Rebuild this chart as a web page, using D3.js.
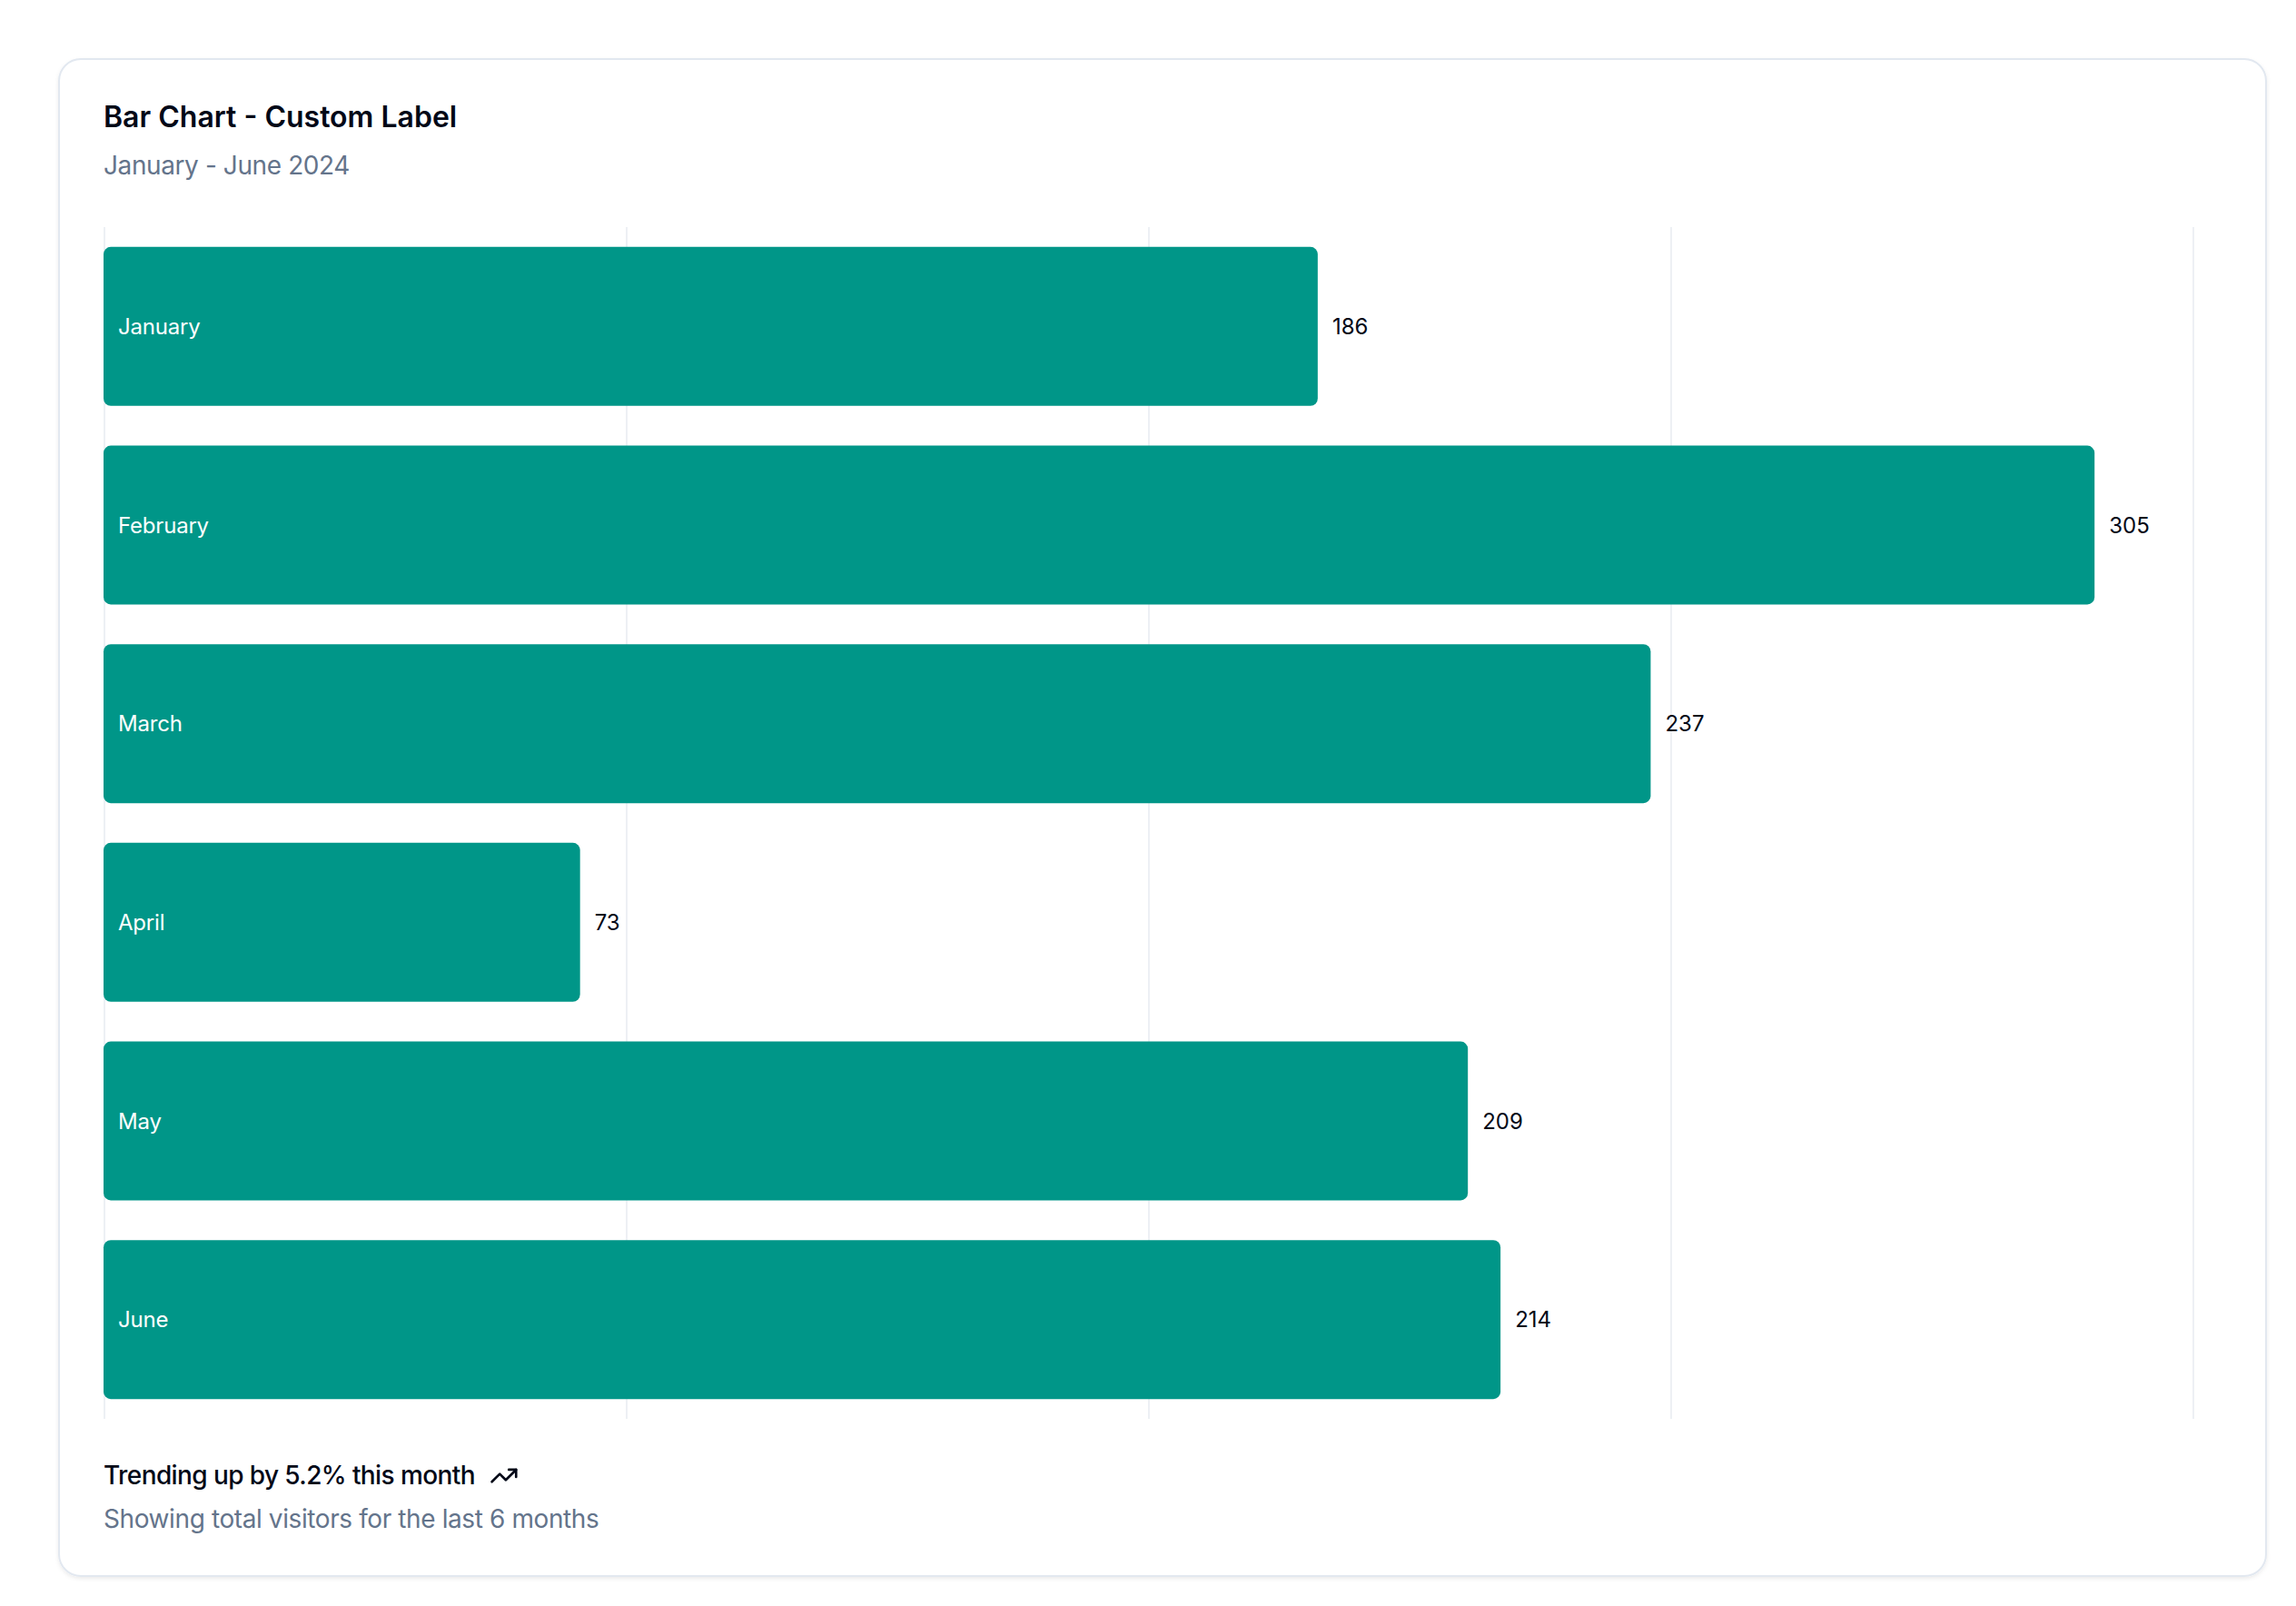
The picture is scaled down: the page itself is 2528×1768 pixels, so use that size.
<!DOCTYPE html>
<html>
<head>
<meta charset="utf-8">
<script src="https://cdn.jsdelivr.net/npm/d3@7"></script>
<style>
  html, body { margin: 0; padding: 0; background: #ffffff; }
  svg { display: block; font-family: Inter, "Noto Sans", sans-serif; }
</style>
</head>
<body>
<div id="chart"></div>
<script>
// chart data
const months = ["January", "February", "March", "April", "May", "June"];
const visitors = [186, 305, 237, 73, 209, 214];
const xTicks = [0, 80, 160, 240, 320];

const title = "Bar Chart - Custom Label";
const subtitle = "January - June 2024";
const footTrend = "Trending up by 5.2% this month";
const footNote = "Showing total visitors for the last 6 months";

// layout in css px, drawn at 2x
const W = 1264, H = 884;
const card = { x: 32, y: 32, w: 1216, h: 836 };
const plot = { left: 57, right: 1207, top: 125, bottom: 781 };

const svg = d3.select('#chart')
    .append('svg')
    .attr('width', W * 2)
    .attr('height', H * 2)
    .attr('viewBox', `0 0 ${W} ${H}`);

const defs = svg.append('defs');
const shadow = defs.append('filter').attr('id', 'shadow')
    .attr('x', '-5%').attr('y', '-5%').attr('width', '110%').attr('height', '110%');
shadow.append('feDropShadow')
    .attr('dx', 0).attr('dy', 1).attr('stdDeviation', 1)
    .attr('flood-color', '#0f172a').attr('flood-opacity', 0.08);

// card
svg.append('rect')
    .attr('x', card.x + 0.5).attr('y', card.y + 0.5)
    .attr('width', card.w - 1).attr('height', card.h - 1)
    .attr('rx', 12)
    .attr('fill', '#ffffff')
    .attr('stroke', '#e2e8f0')
    .attr('filter', 'url(#shadow)');

// header
svg.append('text')
    .attr('x', 57).attr('y', 70)
    .attr('font-size', 16).attr('font-weight', 600)
    .attr('fill', '#020817')
    .text(title);

svg.append('text')
    .attr('x', 57).attr('y', 96)
    .attr('font-size', 14)
    .attr('letter-spacing', -0.2)
    .attr('fill', '#64748b')
    .text(subtitle);

// scales
const x = d3.scaleLinear()
    .domain(d3.extent(xTicks))
    .range([plot.left, plot.right]);

const y = d3.scaleBand()
    .domain(months)
    .range([plot.top, plot.bottom])
    .paddingInner(0.2)
    .paddingOuter(0.1);

// vertical grid lines
const grid = svg.append('g')
    .attr('transform', `translate(0,${plot.bottom})`)
    .call(d3.axisBottom(x)
        .tickValues(xTicks)
        .tickSize(-(plot.bottom - plot.top))
        .tickFormat(''));
grid.select('.domain').remove();
grid.selectAll('line').attr('stroke', '#edf0f4').attr('stroke-width', 1);

const rows = months.map((m, i) => ({ month: m, value: visitors[i] }));

// bars
svg.append('g')
    .selectAll('rect')
    .data(rows)
    .enter().append('rect')
    .attr('x', x(0))
    .attr('y', d => y(d.month))
    .attr('width', d => x(d.value) - x(0))
    .attr('height', y.bandwidth())
    .attr('rx', 4)
    .attr('fill', '#009688');

// month labels inside bars
svg.append('g')
    .selectAll('text')
    .data(rows)
    .enter().append('text')
    .attr('x', x(0) + 8)
    .attr('y', d => y(d.month) + y.bandwidth() / 2)
    .attr('dominant-baseline', 'central')
    .attr('font-size', 12)
    .attr('letter-spacing', -0.1)
    .attr('fill', '#ffffff')
    .text(d => d.month);

// value labels right of bars
svg.append('g')
    .selectAll('text')
    .data(rows)
    .enter().append('text')
    .attr('x', d => x(d.value) + 8)
    .attr('y', d => y(d.month) + y.bandwidth() / 2)
    .attr('dominant-baseline', 'central')
    .attr('font-size', 12)
    .attr('fill', '#020817')
    .text(d => d.value);

// footer
const trend = svg.append('text')
    .attr('x', 57).attr('y', 817)
    .attr('font-size', 14).attr('font-weight', 500)
    .attr('letter-spacing', -0.3)
    .attr('fill', '#020817')
    .text(footTrend);

const tw = trend.node().getComputedTextLength();
const icon = svg.append('g')
    .attr('transform', `translate(${57 + tw + 8},${804.3}) scale(${16 / 24})`)
    .attr('fill', 'none')
    .attr('stroke', '#020817')
    .attr('stroke-width', 2)
    .attr('stroke-linecap', 'round')
    .attr('stroke-linejoin', 'round');
icon.append('polyline').attr('points', '22 7 13.5 15.5 8.5 10.5 2 17');
icon.append('polyline').attr('points', '16 7 22 7 22 13');

svg.append('text')
    .attr('x', 57).attr('y', 841)
    .attr('font-size', 14)
    .attr('letter-spacing', -0.2)
    .attr('fill', '#64748b')
    .text(footNote);
</script>
</body>
</html>
